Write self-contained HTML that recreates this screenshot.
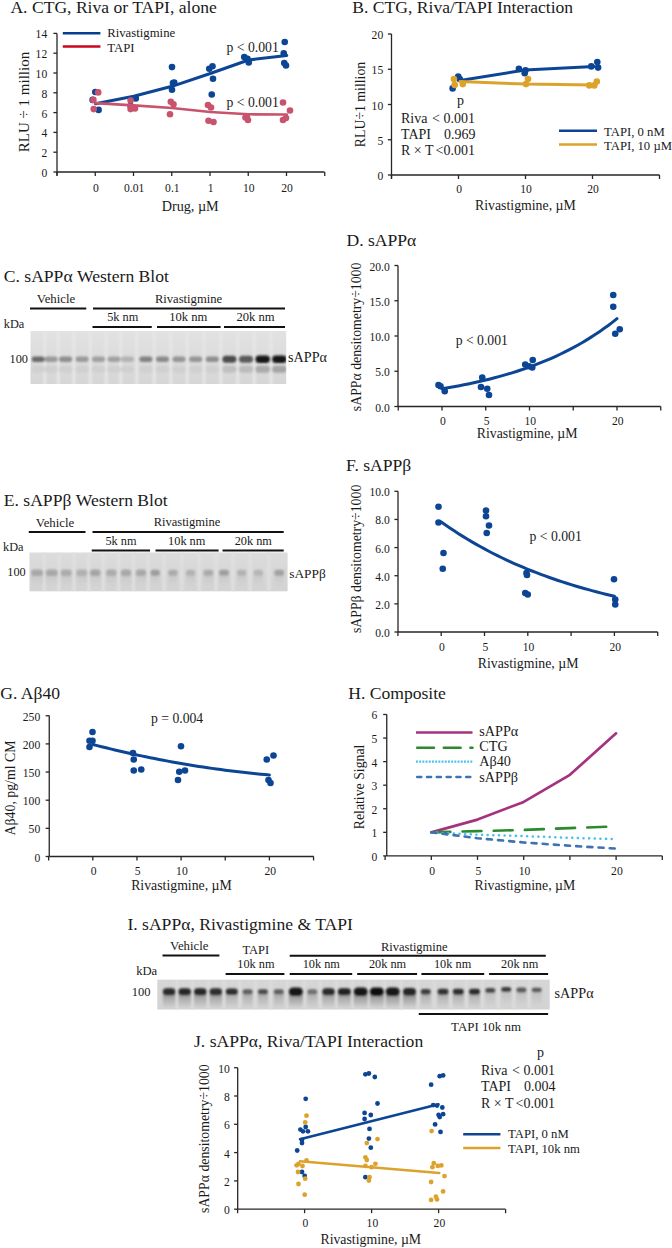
<!DOCTYPE html>
<html><head><meta charset="utf-8"><style>
html,body{margin:0;padding:0;background:#fff;overflow:hidden;}
svg{display:block;}
text{font-family:"Liberation Serif", serif;}
</style></head><body>
<svg width="672" height="1248" viewBox="0 0 672 1248">
<defs><filter id="bl" x="-50%" y="-50%" width="200%" height="200%"><feGaussianBlur stdDeviation="1.2"/></filter><filter id="bl2" x="-50%" y="-50%" width="200%" height="200%"><feGaussianBlur stdDeviation="1"/></filter></defs>
<rect width="672" height="1248" fill="#fff"/>
<text x="10.40" y="12.80" font-size="17.6" text-anchor="start" fill="#1a1a1a" >A. CTG, Riva or TAPI, alone</text>
<line x1="57.00" y1="33.40" x2="57.00" y2="175.60" stroke="#262626" stroke-width="1.3" />
<line x1="53.40" y1="172.00" x2="57.00" y2="172.00" stroke="#262626" stroke-width="1.3" />
<text x="47.20" y="177.00" font-size="11.6" text-anchor="end" fill="#1a1a1a" >0</text>
<line x1="53.40" y1="152.20" x2="57.00" y2="152.20" stroke="#262626" stroke-width="1.3" />
<text x="47.20" y="157.20" font-size="11.6" text-anchor="end" fill="#1a1a1a" >2</text>
<line x1="53.40" y1="132.40" x2="57.00" y2="132.40" stroke="#262626" stroke-width="1.3" />
<text x="47.20" y="137.40" font-size="11.6" text-anchor="end" fill="#1a1a1a" >4</text>
<line x1="53.40" y1="112.60" x2="57.00" y2="112.60" stroke="#262626" stroke-width="1.3" />
<text x="47.20" y="117.60" font-size="11.6" text-anchor="end" fill="#1a1a1a" >6</text>
<line x1="53.40" y1="92.80" x2="57.00" y2="92.80" stroke="#262626" stroke-width="1.3" />
<text x="47.20" y="97.80" font-size="11.6" text-anchor="end" fill="#1a1a1a" >8</text>
<line x1="53.40" y1="73.00" x2="57.00" y2="73.00" stroke="#262626" stroke-width="1.3" />
<text x="47.20" y="78.00" font-size="11.6" text-anchor="end" fill="#1a1a1a" >10</text>
<line x1="53.40" y1="53.20" x2="57.00" y2="53.20" stroke="#262626" stroke-width="1.3" />
<text x="47.20" y="58.20" font-size="11.6" text-anchor="end" fill="#1a1a1a" >12</text>
<line x1="53.40" y1="33.40" x2="57.00" y2="33.40" stroke="#262626" stroke-width="1.3" />
<text x="47.20" y="38.40" font-size="11.6" text-anchor="end" fill="#1a1a1a" >14</text>
<line x1="57.00" y1="172.00" x2="324.50" y2="172.00" stroke="#262626" stroke-width="1.3" />
<line x1="57.00" y1="172.00" x2="57.00" y2="176.00" stroke="#262626" stroke-width="1.3" />
<line x1="95.25" y1="172.00" x2="95.25" y2="176.00" stroke="#262626" stroke-width="1.3" />
<line x1="133.50" y1="172.00" x2="133.50" y2="176.00" stroke="#262626" stroke-width="1.3" />
<line x1="171.75" y1="172.00" x2="171.75" y2="176.00" stroke="#262626" stroke-width="1.3" />
<line x1="210.00" y1="172.00" x2="210.00" y2="176.00" stroke="#262626" stroke-width="1.3" />
<line x1="248.25" y1="172.00" x2="248.25" y2="176.00" stroke="#262626" stroke-width="1.3" />
<line x1="286.50" y1="172.00" x2="286.50" y2="176.00" stroke="#262626" stroke-width="1.3" />
<line x1="324.75" y1="172.00" x2="324.75" y2="176.00" stroke="#262626" stroke-width="1.3" />
<text x="95.85" y="191.60" font-size="11.6" text-anchor="middle" fill="#1a1a1a" >0</text>
<text x="134.10" y="191.60" font-size="11.6" text-anchor="middle" fill="#1a1a1a" >0.01</text>
<text x="172.35" y="191.60" font-size="11.6" text-anchor="middle" fill="#1a1a1a" >0.1</text>
<text x="210.60" y="191.60" font-size="11.6" text-anchor="middle" fill="#1a1a1a" >1</text>
<text x="248.85" y="191.60" font-size="11.6" text-anchor="middle" fill="#1a1a1a" >10</text>
<text x="287.10" y="191.60" font-size="11.6" text-anchor="middle" fill="#1a1a1a" >20</text>
<text x="190.20" y="210.80" font-size="14.2" text-anchor="middle" fill="#1a1a1a" >Drug, µM</text>
<text x="0" y="0" font-size="15" text-anchor="middle" fill="#1a1a1a" transform="translate(29.20,102.00) rotate(-90)">RLU ÷ 1 million</text>
<line x1="62.80" y1="33.20" x2="100.40" y2="33.20" stroke="#063f8e" stroke-width="2.4" />
<text x="107.20" y="37.20" font-size="12.75" text-anchor="start" fill="#1a1a1a" >Rivastigmine</text>
<line x1="62.80" y1="46.50" x2="100.40" y2="46.50" stroke="#c8061e" stroke-width="2.4" />
<text x="107.20" y="52.00" font-size="12.75" text-anchor="start" fill="#1a1a1a" >TAPI</text>
<text x="226.60" y="52.20" font-size="13.7" text-anchor="start" fill="#1a1a1a" >p &lt; 0.001</text>
<text x="226.60" y="107.20" font-size="13.7" text-anchor="start" fill="#1a1a1a" >p &lt; 0.001</text>
<polyline points="95.50,103.70 133.75,96.20 172.00,86.30 210.25,73.50 248.50,60.00 286.75,55.50" fill="none" stroke="#0d4595" stroke-width="3" stroke-linejoin="round" stroke-linecap="round" />
<circle cx="95.30" cy="92.00" r="3.3" fill="#0d4595"/>
<circle cx="92.60" cy="99.90" r="3.3" fill="#0d4595"/>
<circle cx="98.60" cy="109.90" r="3.3" fill="#0d4595"/>
<circle cx="135.80" cy="98.40" r="3.3" fill="#0d4595"/>
<circle cx="130.60" cy="106.00" r="3.3" fill="#0d4595"/>
<circle cx="172.00" cy="67.10" r="3.3" fill="#0d4595"/>
<circle cx="173.00" cy="83.00" r="3.3" fill="#0d4595"/>
<circle cx="172.00" cy="89.80" r="3.3" fill="#0d4595"/>
<circle cx="174.25" cy="82.50" r="3.3" fill="#0d4595"/>
<circle cx="209.25" cy="68.75" r="3.3" fill="#0d4595"/>
<circle cx="212.50" cy="66.25" r="3.3" fill="#0d4595"/>
<circle cx="213.00" cy="78.75" r="3.3" fill="#0d4595"/>
<circle cx="211.75" cy="94.50" r="3.3" fill="#0d4595"/>
<circle cx="244.25" cy="57.00" r="3.3" fill="#0d4595"/>
<circle cx="247.50" cy="58.75" r="3.3" fill="#0d4595"/>
<circle cx="248.75" cy="62.50" r="3.3" fill="#0d4595"/>
<circle cx="284.75" cy="42.00" r="3.3" fill="#0d4595"/>
<circle cx="283.75" cy="53.25" r="3.3" fill="#0d4595"/>
<circle cx="284.25" cy="63.00" r="3.3" fill="#0d4595"/>
<circle cx="286.00" cy="65.50" r="3.3" fill="#0d4595"/>
<polyline points="95.50,103.20 133.75,105.40 172.00,108.00 210.25,112.00 248.50,114.25 286.75,114.50" fill="none" stroke="#c9536d" stroke-width="2.7" stroke-linejoin="round" stroke-linecap="round" />
<circle cx="98.20" cy="92.40" r="3.3" fill="#c9536d"/>
<circle cx="93.40" cy="99.90" r="3.3" fill="#c9536d"/>
<circle cx="93.70" cy="109.10" r="3.3" fill="#c9536d"/>
<circle cx="130.60" cy="100.50" r="3.3" fill="#c9536d"/>
<circle cx="130.60" cy="109.10" r="3.3" fill="#c9536d"/>
<circle cx="135.00" cy="108.40" r="3.3" fill="#c9536d"/>
<circle cx="170.80" cy="101.70" r="3.3" fill="#c9536d"/>
<circle cx="173.50" cy="104.30" r="3.3" fill="#c9536d"/>
<circle cx="170.00" cy="114.30" r="3.3" fill="#c9536d"/>
<circle cx="208.00" cy="105.00" r="3.3" fill="#c9536d"/>
<circle cx="211.00" cy="107.50" r="3.3" fill="#c9536d"/>
<circle cx="208.50" cy="120.75" r="3.3" fill="#c9536d"/>
<circle cx="213.50" cy="122.00" r="3.3" fill="#c9536d"/>
<circle cx="245.50" cy="117.50" r="3.3" fill="#c9536d"/>
<circle cx="248.00" cy="120.00" r="3.3" fill="#c9536d"/>
<circle cx="246.75" cy="116.25" r="3.3" fill="#c9536d"/>
<circle cx="283.00" cy="102.50" r="3.3" fill="#c9536d"/>
<circle cx="290.00" cy="110.50" r="3.3" fill="#c9536d"/>
<circle cx="283.00" cy="120.00" r="3.3" fill="#c9536d"/>
<circle cx="286.00" cy="118.00" r="3.3" fill="#c9536d"/>
<text x="352.25" y="12.80" font-size="17.6" text-anchor="start" fill="#1a1a1a" >B. CTG, Riva/TAPI Interaction</text>
<line x1="391.50" y1="34.00" x2="391.50" y2="178.50" stroke="#262626" stroke-width="1.3" />
<line x1="387.90" y1="175.00" x2="391.50" y2="175.00" stroke="#262626" stroke-width="1.3" />
<text x="383.20" y="180.00" font-size="11.6" text-anchor="end" fill="#1a1a1a" >0</text>
<line x1="387.90" y1="139.75" x2="391.50" y2="139.75" stroke="#262626" stroke-width="1.3" />
<text x="383.20" y="144.75" font-size="11.6" text-anchor="end" fill="#1a1a1a" >5</text>
<line x1="387.90" y1="104.50" x2="391.50" y2="104.50" stroke="#262626" stroke-width="1.3" />
<text x="383.20" y="109.50" font-size="11.6" text-anchor="end" fill="#1a1a1a" >10</text>
<line x1="387.90" y1="69.25" x2="391.50" y2="69.25" stroke="#262626" stroke-width="1.3" />
<text x="383.20" y="74.25" font-size="11.6" text-anchor="end" fill="#1a1a1a" >15</text>
<line x1="387.90" y1="34.00" x2="391.50" y2="34.00" stroke="#262626" stroke-width="1.3" />
<text x="383.20" y="39.00" font-size="11.6" text-anchor="end" fill="#1a1a1a" >20</text>
<line x1="391.50" y1="175.00" x2="659.50" y2="175.00" stroke="#262626" stroke-width="1.3" />
<line x1="391.50" y1="175.00" x2="391.50" y2="179.00" stroke="#262626" stroke-width="1.3" />
<line x1="458.50" y1="175.00" x2="458.50" y2="179.00" stroke="#262626" stroke-width="1.3" />
<line x1="525.50" y1="175.00" x2="525.50" y2="179.00" stroke="#262626" stroke-width="1.3" />
<line x1="592.50" y1="175.00" x2="592.50" y2="179.00" stroke="#262626" stroke-width="1.3" />
<line x1="659.50" y1="175.00" x2="659.50" y2="179.00" stroke="#262626" stroke-width="1.3" />
<text x="459.10" y="193.20" font-size="11.6" text-anchor="middle" fill="#1a1a1a" >0</text>
<text x="526.10" y="193.20" font-size="11.6" text-anchor="middle" fill="#1a1a1a" >10</text>
<text x="593.10" y="193.20" font-size="11.6" text-anchor="middle" fill="#1a1a1a" >20</text>
<text x="525.40" y="209.80" font-size="13.8" text-anchor="middle" fill="#1a1a1a" >Rivastigmine, µM</text>
<text x="0" y="0" font-size="13.8" text-anchor="middle" fill="#1a1a1a" transform="translate(365.30,104.50) rotate(-90)">RLU÷1 million</text>
<text x="460.50" y="105.20" font-size="14" text-anchor="middle" fill="#1a1a1a" >p</text>
<text x="401.00" y="122.60" font-size="14" text-anchor="start" fill="#1a1a1a" >Riva</text>
<text x="475.00" y="122.60" font-size="14" text-anchor="end" fill="#1a1a1a" >&lt; 0.001</text>
<text x="401.00" y="139.00" font-size="14" text-anchor="start" fill="#1a1a1a" >TAPI</text>
<text x="475.50" y="139.00" font-size="14" text-anchor="end" fill="#1a1a1a" >0.969</text>
<text x="401.00" y="155.20" font-size="14" text-anchor="start" fill="#1a1a1a" >R × T</text>
<text x="475.00" y="155.20" font-size="14" text-anchor="end" fill="#1a1a1a" >&lt;0.001</text>
<line x1="559.00" y1="130.80" x2="597.00" y2="130.80" stroke="#0d4595" stroke-width="2.4" />
<text x="604.00" y="135.50" font-size="12.7" text-anchor="start" fill="#1a1a1a" >TAPI, 0 nM</text>
<line x1="559.00" y1="144.50" x2="597.00" y2="144.50" stroke="#dca22c" stroke-width="2.4" />
<text x="604.00" y="149.50" font-size="12.7" text-anchor="start" fill="#1a1a1a" >TAPI, 10 µM</text>
<polyline points="460.00,80.50 525.00,70.00 594.00,66.50" fill="none" stroke="#0d4595" stroke-width="3" stroke-linejoin="round" stroke-linecap="round" />
<circle cx="452.60" cy="88.40" r="3.3" fill="#0d4595"/>
<circle cx="458.20" cy="76.50" r="3.3" fill="#0d4595"/>
<circle cx="459.70" cy="79.00" r="3.3" fill="#0d4595"/>
<circle cx="518.90" cy="68.90" r="3.3" fill="#0d4595"/>
<circle cx="525.50" cy="70.20" r="3.3" fill="#0d4595"/>
<circle cx="524.70" cy="73.20" r="3.3" fill="#0d4595"/>
<circle cx="591.30" cy="66.40" r="3.3" fill="#0d4595"/>
<circle cx="597.30" cy="62.10" r="3.3" fill="#0d4595"/>
<circle cx="598.10" cy="67.60" r="3.3" fill="#0d4595"/>
<polyline points="460.00,81.60 526.00,84.10 594.00,84.90" fill="none" stroke="#dca22c" stroke-width="3" stroke-linejoin="round" stroke-linecap="round" />
<circle cx="453.90" cy="79.00" r="3.3" fill="#dca22c"/>
<circle cx="454.70" cy="84.90" r="3.3" fill="#dca22c"/>
<circle cx="462.80" cy="84.10" r="3.3" fill="#dca22c"/>
<circle cx="528.00" cy="79.00" r="3.3" fill="#dca22c"/>
<circle cx="526.00" cy="84.10" r="3.3" fill="#dca22c"/>
<circle cx="589.30" cy="85.40" r="3.3" fill="#dca22c"/>
<circle cx="594.30" cy="85.40" r="3.3" fill="#dca22c"/>
<circle cx="596.80" cy="81.60" r="3.3" fill="#dca22c"/>
<text x="3.75" y="281.80" font-size="17.6" text-anchor="start" fill="#1a1a1a" >C. sAPPα Western Blot</text>
<text x="56.00" y="303.20" font-size="12.8" text-anchor="middle" fill="#1a1a1a" >Vehicle</text>
<line x1="30.00" y1="308.40" x2="86.25" y2="308.40" stroke="#111" stroke-width="2" />
<text x="188.50" y="302.50" font-size="12.6" text-anchor="middle" fill="#1a1a1a" >Rivastigmine</text>
<line x1="93.00" y1="308.40" x2="285.00" y2="308.40" stroke="#111" stroke-width="2" />
<text x="122.75" y="321.00" font-size="12.3" text-anchor="middle" fill="#1a1a1a" >5k nm</text>
<line x1="92.50" y1="327.00" x2="151.75" y2="327.00" stroke="#111" stroke-width="2" />
<text x="188.30" y="321.30" font-size="12.6" text-anchor="middle" fill="#1a1a1a" >10k nm</text>
<line x1="157.00" y1="327.00" x2="220.60" y2="327.00" stroke="#111" stroke-width="2" />
<text x="255.50" y="321.30" font-size="12.6" text-anchor="middle" fill="#1a1a1a" >20k nm</text>
<line x1="224.00" y1="327.00" x2="285.00" y2="327.00" stroke="#111" stroke-width="2" />
<text x="3.75" y="327.50" font-size="12.3" text-anchor="start" fill="#1a1a1a" >kDa</text>
<text x="28.00" y="362.50" font-size="12.3" text-anchor="end" fill="#1a1a1a" >100</text>
<linearGradient id="g1" x1="0" y1="0" x2="0" y2="1"><stop offset="0" stop-color="#e2e2e2"/><stop offset="1" stop-color="#d6d6d6"/></linearGradient>
<rect x="30.5" y="331" width="255.70" height="53.00" fill="url(#g1)"/>
<svg x="30.5" y="331" width="255.70" height="53.00" viewBox="30.5 331 255.70 53.00" overflow="hidden">
<g filter="url(#bl2)">
<rect x="43.15" y="326" width="3" height="63.00" fill="#e6e6e6"/>
<rect x="56.85" y="326" width="3" height="63.00" fill="#e6e6e6"/>
<rect x="72.35" y="326" width="3" height="63.00" fill="#e6e6e6"/>
<rect x="88.80" y="326" width="3" height="63.00" fill="#e6e6e6"/>
<rect x="104.75" y="326" width="3" height="63.00" fill="#e6e6e6"/>
<rect x="119.25" y="326" width="3" height="63.00" fill="#e6e6e6"/>
<rect x="135.20" y="326" width="3" height="63.00" fill="#e6e6e6"/>
<rect x="152.70" y="326" width="3" height="63.00" fill="#e6e6e6"/>
<rect x="169.25" y="326" width="3" height="63.00" fill="#e6e6e6"/>
<rect x="185.85" y="326" width="3" height="63.00" fill="#e6e6e6"/>
<rect x="202.50" y="326" width="3" height="63.00" fill="#e6e6e6"/>
<rect x="219.35" y="326" width="3" height="63.00" fill="#e6e6e6"/>
<rect x="236.20" y="326" width="3" height="63.00" fill="#e6e6e6"/>
<rect x="252.85" y="326" width="3" height="63.00" fill="#e6e6e6"/>
<rect x="269.55" y="326" width="3" height="63.00" fill="#e6e6e6"/>
</g>
<g filter="url(#bl)">
<rect x="31.70" y="365.80" width="13.00" height="7.00" rx="3.50" fill="#d0d0d0"/>
<rect x="44.60" y="365.80" width="13.00" height="7.00" rx="3.50" fill="#d0d0d0"/>
<rect x="59.10" y="365.80" width="13.00" height="7.00" rx="3.50" fill="#d0d0d0"/>
<rect x="75.60" y="365.80" width="13.00" height="7.00" rx="3.50" fill="#d0d0d0"/>
<rect x="92.00" y="365.80" width="13.00" height="7.00" rx="3.50" fill="#d0d0d0"/>
<rect x="107.50" y="365.80" width="13.00" height="7.00" rx="3.50" fill="#d0d0d0"/>
<rect x="121.00" y="365.80" width="13.00" height="7.00" rx="3.50" fill="#d0d0d0"/>
<rect x="139.40" y="365.80" width="13.00" height="7.00" rx="3.50" fill="#d0d0d0"/>
<rect x="156.00" y="365.80" width="13.00" height="7.00" rx="3.50" fill="#d0d0d0"/>
<rect x="172.50" y="365.80" width="13.00" height="7.00" rx="3.50" fill="#d0d0d0"/>
<rect x="189.20" y="365.80" width="13.00" height="7.00" rx="3.50" fill="#d0d0d0"/>
<rect x="205.80" y="365.80" width="13.00" height="7.00" rx="3.50" fill="#d0d0d0"/>
<rect x="222.40" y="365.80" width="14.00" height="7.00" rx="3.50" fill="#c0c0c0"/>
<rect x="239.00" y="365.80" width="14.00" height="7.00" rx="3.50" fill="#bcbcbc"/>
<rect x="255.45" y="365.80" width="14.50" height="7.00" rx="3.50" fill="#aaaaaa"/>
<rect x="272.15" y="365.80" width="14.50" height="7.00" rx="3.50" fill="#a5a5a5"/>
<rect x="31.70" y="356.55" width="13.00" height="5.50" rx="2.75" fill="#6a6a6a"/>
<rect x="44.60" y="356.55" width="13.00" height="5.50" rx="2.75" fill="#9a9a9a"/>
<rect x="59.10" y="356.55" width="13.00" height="5.50" rx="2.75" fill="#8e8e8e"/>
<rect x="75.60" y="356.55" width="13.00" height="5.50" rx="2.75" fill="#9a9a9a"/>
<rect x="92.00" y="356.55" width="13.00" height="5.50" rx="2.75" fill="#a0a0a0"/>
<rect x="107.50" y="356.55" width="13.00" height="5.50" rx="2.75" fill="#a2a2a2"/>
<rect x="121.00" y="356.55" width="13.00" height="5.50" rx="2.75" fill="#b4b4b4"/>
<rect x="139.40" y="356.55" width="13.00" height="5.50" rx="2.75" fill="#828282"/>
<rect x="156.00" y="356.55" width="13.00" height="5.50" rx="2.75" fill="#8a8a8a"/>
<rect x="172.50" y="356.55" width="13.00" height="5.50" rx="2.75" fill="#959595"/>
<rect x="189.20" y="356.55" width="13.00" height="5.50" rx="2.75" fill="#959595"/>
<rect x="205.80" y="356.55" width="13.00" height="5.50" rx="2.75" fill="#8e8e8e"/>
<rect x="222.40" y="355.80" width="14.00" height="7.00" rx="3.50" fill="#4c4c4c"/>
<rect x="239.00" y="355.80" width="14.00" height="7.00" rx="3.50" fill="#5a5a5a"/>
<rect x="255.45" y="355.55" width="14.50" height="7.50" rx="3.75" fill="#161616"/>
<rect x="272.15" y="355.55" width="14.50" height="7.50" rx="3.75" fill="#141414"/>
</g></svg>
<text x="288.00" y="361.50" font-size="14.2" text-anchor="start" fill="#1a1a1a" >sAPPα</text>
<text x="3.75" y="506.25" font-size="17.6" text-anchor="start" fill="#1a1a1a" >E. sAPPβ Western Blot</text>
<text x="55.00" y="527.00" font-size="12.8" text-anchor="middle" fill="#1a1a1a" >Vehicle</text>
<line x1="28.75" y1="532.00" x2="85.50" y2="532.00" stroke="#111" stroke-width="2" />
<text x="187.00" y="526.30" font-size="12.5" text-anchor="middle" fill="#1a1a1a" >Rivastigmine</text>
<line x1="92.50" y1="532.00" x2="283.70" y2="532.00" stroke="#111" stroke-width="2" />
<text x="121.00" y="545.00" font-size="12.3" text-anchor="middle" fill="#1a1a1a" >5k nm</text>
<line x1="91.75" y1="550.50" x2="150.00" y2="550.50" stroke="#111" stroke-width="2" />
<text x="186.70" y="545.00" font-size="12.3" text-anchor="middle" fill="#1a1a1a" >10k nm</text>
<line x1="155.50" y1="550.50" x2="218.60" y2="550.50" stroke="#111" stroke-width="2" />
<text x="253.30" y="545.00" font-size="12.3" text-anchor="middle" fill="#1a1a1a" >20k nm</text>
<line x1="222.50" y1="550.50" x2="283.70" y2="550.50" stroke="#111" stroke-width="2" />
<text x="3.00" y="550.50" font-size="12.3" text-anchor="start" fill="#1a1a1a" >kDa</text>
<text x="25.75" y="576.25" font-size="12.3" text-anchor="end" fill="#1a1a1a" >100</text>
<linearGradient id="g2" x1="0" y1="0" x2="0" y2="1"><stop offset="0" stop-color="#dcdcdc"/><stop offset="1" stop-color="#d3d3d3"/></linearGradient>
<rect x="29.5" y="552.5" width="258.10" height="38.80" fill="url(#g2)"/>
<svg x="29.5" y="552.5" width="258.10" height="38.80" viewBox="29.5 552.5 258.10 38.80" overflow="hidden">
<g filter="url(#bl2)">
<rect x="42.85" y="547.5" width="3" height="48.80" fill="#e0e0e0"/>
<rect x="57.45" y="547.5" width="3" height="48.80" fill="#e0e0e0"/>
<rect x="72.50" y="547.5" width="3" height="48.80" fill="#e0e0e0"/>
<rect x="87.05" y="547.5" width="3" height="48.80" fill="#e0e0e0"/>
<rect x="101.80" y="547.5" width="3" height="48.80" fill="#e0e0e0"/>
<rect x="117.15" y="547.5" width="3" height="48.80" fill="#e0e0e0"/>
<rect x="132.00" y="547.5" width="3" height="48.80" fill="#e0e0e0"/>
<rect x="146.60" y="547.5" width="3" height="48.80" fill="#e0e0e0"/>
<rect x="162.55" y="547.5" width="3" height="48.80" fill="#e0e0e0"/>
<rect x="180.25" y="547.5" width="3" height="48.80" fill="#e0e0e0"/>
<rect x="197.95" y="547.5" width="3" height="48.80" fill="#e0e0e0"/>
<rect x="214.65" y="547.5" width="3" height="48.80" fill="#e0e0e0"/>
<rect x="231.35" y="547.5" width="3" height="48.80" fill="#e0e0e0"/>
<rect x="248.50" y="547.5" width="3" height="48.80" fill="#e0e0e0"/>
<rect x="267.25" y="547.5" width="3" height="48.80" fill="#e0e0e0"/>
</g>
<g filter="url(#bl)">
<linearGradient id="g2s0" x1="0" y1="0" x2="0" y2="1"><stop offset="0" stop-color="#c6c6c6" stop-opacity="1"/><stop offset="1" stop-color="#c6c6c6" stop-opacity="0"/></linearGradient>
<rect x="31.00" y="572.80" width="12.00" height="14.00" rx="2" fill="url(#g2s0)"/>
<linearGradient id="g2s1" x1="0" y1="0" x2="0" y2="1"><stop offset="0" stop-color="#c6c6c6" stop-opacity="1"/><stop offset="1" stop-color="#c6c6c6" stop-opacity="0"/></linearGradient>
<rect x="45.70" y="572.80" width="12.00" height="14.00" rx="2" fill="url(#g2s1)"/>
<linearGradient id="g2s2" x1="0" y1="0" x2="0" y2="1"><stop offset="0" stop-color="#c6c6c6" stop-opacity="1"/><stop offset="1" stop-color="#c6c6c6" stop-opacity="0"/></linearGradient>
<rect x="60.70" y="572.80" width="11.00" height="14.00" rx="2" fill="url(#g2s2)"/>
<linearGradient id="g2s3" x1="0" y1="0" x2="0" y2="1"><stop offset="0" stop-color="#c6c6c6" stop-opacity="1"/><stop offset="1" stop-color="#c6c6c6" stop-opacity="0"/></linearGradient>
<rect x="76.30" y="572.80" width="11.00" height="14.00" rx="2" fill="url(#g2s3)"/>
<linearGradient id="g2s4" x1="0" y1="0" x2="0" y2="1"><stop offset="0" stop-color="#c6c6c6" stop-opacity="1"/><stop offset="1" stop-color="#c6c6c6" stop-opacity="0"/></linearGradient>
<rect x="90.05" y="572.80" width="10.50" height="14.00" rx="2" fill="url(#g2s4)"/>
<linearGradient id="g2s5" x1="0" y1="0" x2="0" y2="1"><stop offset="0" stop-color="#c6c6c6" stop-opacity="1"/><stop offset="1" stop-color="#c6c6c6" stop-opacity="0"/></linearGradient>
<rect x="106.05" y="572.80" width="10.50" height="14.00" rx="2" fill="url(#g2s5)"/>
<linearGradient id="g2s6" x1="0" y1="0" x2="0" y2="1"><stop offset="0" stop-color="#c6c6c6" stop-opacity="1"/><stop offset="1" stop-color="#c6c6c6" stop-opacity="0"/></linearGradient>
<rect x="120.75" y="572.80" width="10.50" height="14.00" rx="2" fill="url(#g2s6)"/>
<linearGradient id="g2s7" x1="0" y1="0" x2="0" y2="1"><stop offset="0" stop-color="#c6c6c6" stop-opacity="1"/><stop offset="1" stop-color="#c6c6c6" stop-opacity="0"/></linearGradient>
<rect x="135.75" y="572.80" width="10.50" height="14.00" rx="2" fill="url(#g2s7)"/>
<linearGradient id="g2s8" x1="0" y1="0" x2="0" y2="1"><stop offset="0" stop-color="#c6c6c6" stop-opacity="1"/><stop offset="1" stop-color="#c6c6c6" stop-opacity="0"/></linearGradient>
<rect x="150.45" y="572.80" width="9.50" height="14.00" rx="2" fill="url(#g2s8)"/>
<linearGradient id="g2s9" x1="0" y1="0" x2="0" y2="1"><stop offset="0" stop-color="#c6c6c6" stop-opacity="1"/><stop offset="1" stop-color="#c6c6c6" stop-opacity="0"/></linearGradient>
<rect x="168.15" y="572.80" width="9.50" height="14.00" rx="2" fill="url(#g2s9)"/>
<linearGradient id="g2s10" x1="0" y1="0" x2="0" y2="1"><stop offset="0" stop-color="#c6c6c6" stop-opacity="1"/><stop offset="1" stop-color="#c6c6c6" stop-opacity="0"/></linearGradient>
<rect x="185.85" y="572.80" width="9.50" height="14.00" rx="2" fill="url(#g2s10)"/>
<linearGradient id="g2s11" x1="0" y1="0" x2="0" y2="1"><stop offset="0" stop-color="#c6c6c6" stop-opacity="1"/><stop offset="1" stop-color="#c6c6c6" stop-opacity="0"/></linearGradient>
<rect x="203.30" y="572.80" width="10.00" height="14.00" rx="2" fill="url(#g2s11)"/>
<linearGradient id="g2s12" x1="0" y1="0" x2="0" y2="1"><stop offset="0" stop-color="#c6c6c6" stop-opacity="1"/><stop offset="1" stop-color="#c6c6c6" stop-opacity="0"/></linearGradient>
<rect x="219.00" y="572.80" width="10.00" height="14.00" rx="2" fill="url(#g2s12)"/>
<linearGradient id="g2s13" x1="0" y1="0" x2="0" y2="1"><stop offset="0" stop-color="#c6c6c6" stop-opacity="1"/><stop offset="1" stop-color="#c6c6c6" stop-opacity="0"/></linearGradient>
<rect x="236.95" y="572.80" width="9.50" height="14.00" rx="2" fill="url(#g2s13)"/>
<linearGradient id="g2s14" x1="0" y1="0" x2="0" y2="1"><stop offset="0" stop-color="#c6c6c6" stop-opacity="1"/><stop offset="1" stop-color="#c6c6c6" stop-opacity="0"/></linearGradient>
<rect x="253.55" y="572.80" width="9.50" height="14.00" rx="2" fill="url(#g2s14)"/>
<linearGradient id="g2s15" x1="0" y1="0" x2="0" y2="1"><stop offset="0" stop-color="#c6c6c6" stop-opacity="1"/><stop offset="1" stop-color="#c6c6c6" stop-opacity="0"/></linearGradient>
<rect x="274.20" y="572.80" width="10.00" height="14.00" rx="2" fill="url(#g2s15)"/>
<rect x="31.00" y="569.55" width="12.00" height="6.50" rx="3.25" fill="#a8a8a8"/>
<rect x="45.70" y="569.55" width="12.00" height="6.50" rx="3.25" fill="#a8a8a8"/>
<rect x="60.70" y="569.55" width="11.00" height="6.50" rx="3.25" fill="#acacac"/>
<rect x="76.30" y="569.55" width="11.00" height="6.50" rx="3.25" fill="#b0b0b0"/>
<rect x="90.05" y="569.55" width="10.50" height="6.50" rx="3.25" fill="#a4a4a4"/>
<rect x="106.05" y="569.55" width="10.50" height="6.50" rx="3.25" fill="#acacac"/>
<rect x="120.75" y="569.55" width="10.50" height="6.50" rx="3.25" fill="#a8a8a8"/>
<rect x="135.75" y="569.55" width="10.50" height="6.50" rx="3.25" fill="#a8a8a8"/>
<rect x="150.45" y="569.80" width="9.50" height="6.00" rx="3.00" fill="#9c9c9c"/>
<rect x="168.15" y="569.80" width="9.50" height="6.00" rx="3.00" fill="#ababab"/>
<rect x="185.85" y="569.80" width="9.50" height="6.00" rx="3.00" fill="#b2b2b2"/>
<rect x="203.30" y="569.80" width="10.00" height="6.00" rx="3.00" fill="#aaaaaa"/>
<rect x="219.00" y="569.80" width="10.00" height="6.00" rx="3.00" fill="#9e9e9e"/>
<rect x="236.95" y="569.80" width="9.50" height="6.00" rx="3.00" fill="#b2b2b2"/>
<rect x="253.55" y="569.80" width="9.50" height="6.00" rx="3.00" fill="#b6b6b6"/>
<rect x="274.20" y="569.80" width="10.00" height="6.00" rx="3.00" fill="#a2a2a2"/>
</g></svg>
<text x="289.20" y="577.50" font-size="13.4" text-anchor="start" fill="#1a1a1a" >sAPPβ</text>
<text x="127.40" y="929.80" font-size="17.6" text-anchor="start" fill="#1a1a1a" >I. sAPPα, Rivastigmine &amp; TAPI</text>
<text x="189.30" y="950.00" font-size="12.8" text-anchor="middle" fill="#1a1a1a" >Vehicle</text>
<line x1="162.50" y1="955.60" x2="219.40" y2="955.60" stroke="#111" stroke-width="2" />
<text x="255.80" y="953.50" font-size="12.5" text-anchor="middle" fill="#1a1a1a" >TAPI</text>
<text x="255.90" y="968.00" font-size="12.3" text-anchor="middle" fill="#1a1a1a" >10k nm</text>
<line x1="225.60" y1="974.00" x2="284.40" y2="974.00" stroke="#111" stroke-width="2" />
<text x="414.30" y="950.70" font-size="12.5" text-anchor="middle" fill="#1a1a1a" >Rivastigmine</text>
<line x1="289.70" y1="955.70" x2="545.80" y2="955.70" stroke="#111" stroke-width="2" />
<text x="321.30" y="968.00" font-size="12.3" text-anchor="middle" fill="#1a1a1a" >10k nm</text>
<line x1="289.70" y1="974.00" x2="352.20" y2="974.00" stroke="#111" stroke-width="2" />
<text x="387.50" y="968.00" font-size="12.3" text-anchor="middle" fill="#1a1a1a" >20k nm</text>
<line x1="357.20" y1="974.00" x2="417.10" y2="974.00" stroke="#111" stroke-width="2" />
<text x="452.60" y="968.00" font-size="12.3" text-anchor="middle" fill="#1a1a1a" >10k nm</text>
<line x1="421.40" y1="974.00" x2="484.20" y2="974.00" stroke="#111" stroke-width="2" />
<text x="519.70" y="968.00" font-size="12.3" text-anchor="middle" fill="#1a1a1a" >20k nm</text>
<line x1="489.10" y1="974.00" x2="548.10" y2="974.00" stroke="#111" stroke-width="2" />
<text x="136.20" y="974.60" font-size="12.6" text-anchor="start" fill="#1a1a1a" >kDa</text>
<text x="150.50" y="995.90" font-size="12.5" text-anchor="end" fill="#1a1a1a" >100</text>
<linearGradient id="g3" x1="0" y1="0" x2="0" y2="1"><stop offset="0" stop-color="#d6d6d6"/><stop offset="1" stop-color="#d3d3d3"/></linearGradient>
<rect x="157.3" y="979.7" width="392.40" height="29.80" fill="url(#g3)"/>
<svg x="157.3" y="979.7" width="392.40" height="29.80" viewBox="157.3 979.7 392.40 29.80" overflow="hidden">
<g filter="url(#bl2)">
<rect x="175.65" y="974.7" width="2.5" height="39.80" fill="#dddddd"/>
<rect x="191.25" y="974.7" width="2.5" height="39.80" fill="#dddddd"/>
<rect x="206.80" y="974.7" width="2.5" height="39.80" fill="#dddddd"/>
<rect x="222.55" y="974.7" width="2.5" height="39.80" fill="#dddddd"/>
<rect x="238.45" y="974.7" width="2.5" height="39.80" fill="#dddddd"/>
<rect x="254.00" y="974.7" width="2.5" height="39.80" fill="#dddddd"/>
<rect x="269.55" y="974.7" width="2.5" height="39.80" fill="#dddddd"/>
<rect x="286.00" y="974.7" width="2.5" height="39.80" fill="#dddddd"/>
<rect x="302.80" y="974.7" width="2.5" height="39.80" fill="#dddddd"/>
<rect x="319.15" y="974.7" width="2.5" height="39.80" fill="#dddddd"/>
<rect x="335.15" y="974.7" width="2.5" height="39.80" fill="#dddddd"/>
<rect x="351.25" y="974.7" width="2.5" height="39.80" fill="#dddddd"/>
<rect x="367.50" y="974.7" width="2.5" height="39.80" fill="#dddddd"/>
<rect x="383.50" y="974.7" width="2.5" height="39.80" fill="#dddddd"/>
<rect x="399.85" y="974.7" width="2.5" height="39.80" fill="#dddddd"/>
<rect x="416.35" y="974.7" width="2.5" height="39.80" fill="#dddddd"/>
<rect x="433.10" y="974.7" width="2.5" height="39.80" fill="#dddddd"/>
<rect x="449.40" y="974.7" width="2.5" height="39.80" fill="#dddddd"/>
<rect x="465.15" y="974.7" width="2.5" height="39.80" fill="#dddddd"/>
<rect x="481.15" y="974.7" width="2.5" height="39.80" fill="#dddddd"/>
<rect x="497.00" y="974.7" width="2.5" height="39.80" fill="#dddddd"/>
<rect x="512.55" y="974.7" width="2.5" height="39.80" fill="#dddddd"/>
<rect x="527.80" y="974.7" width="2.5" height="39.80" fill="#dddddd"/>
</g>
<g filter="url(#bl)">
<linearGradient id="g3s0" x1="0" y1="0" x2="0" y2="1"><stop offset="0" stop-color="#8e8e8e" stop-opacity="1"/><stop offset="1" stop-color="#8e8e8e" stop-opacity="0"/></linearGradient>
<rect x="162.85" y="991.80" width="12.50" height="16.00" rx="2" fill="url(#g3s0)"/>
<linearGradient id="g3s1" x1="0" y1="0" x2="0" y2="1"><stop offset="0" stop-color="#8e8e8e" stop-opacity="1"/><stop offset="1" stop-color="#8e8e8e" stop-opacity="0"/></linearGradient>
<rect x="178.45" y="991.80" width="12.50" height="16.00" rx="2" fill="url(#g3s1)"/>
<linearGradient id="g3s2" x1="0" y1="0" x2="0" y2="1"><stop offset="0" stop-color="#8e8e8e" stop-opacity="1"/><stop offset="1" stop-color="#8e8e8e" stop-opacity="0"/></linearGradient>
<rect x="194.05" y="991.80" width="12.50" height="16.00" rx="2" fill="url(#g3s2)"/>
<linearGradient id="g3s3" x1="0" y1="0" x2="0" y2="1"><stop offset="0" stop-color="#8e8e8e" stop-opacity="1"/><stop offset="1" stop-color="#8e8e8e" stop-opacity="0"/></linearGradient>
<rect x="209.55" y="991.80" width="12.50" height="16.00" rx="2" fill="url(#g3s3)"/>
<linearGradient id="g3s4" x1="0" y1="0" x2="0" y2="1"><stop offset="0" stop-color="#a5a5a5" stop-opacity="1"/><stop offset="1" stop-color="#a5a5a5" stop-opacity="0"/></linearGradient>
<rect x="225.80" y="991.80" width="12.00" height="16.00" rx="2" fill="url(#g3s4)"/>
<linearGradient id="g3s5" x1="0" y1="0" x2="0" y2="1"><stop offset="0" stop-color="#a5a5a5" stop-opacity="1"/><stop offset="1" stop-color="#a5a5a5" stop-opacity="0"/></linearGradient>
<rect x="242.60" y="991.80" width="10.00" height="16.00" rx="2" fill="url(#g3s5)"/>
<linearGradient id="g3s6" x1="0" y1="0" x2="0" y2="1"><stop offset="0" stop-color="#a5a5a5" stop-opacity="1"/><stop offset="1" stop-color="#a5a5a5" stop-opacity="0"/></linearGradient>
<rect x="257.90" y="991.80" width="10.00" height="16.00" rx="2" fill="url(#g3s6)"/>
<linearGradient id="g3s7" x1="0" y1="0" x2="0" y2="1"><stop offset="0" stop-color="#a5a5a5" stop-opacity="1"/><stop offset="1" stop-color="#a5a5a5" stop-opacity="0"/></linearGradient>
<rect x="273.70" y="991.80" width="10.00" height="16.00" rx="2" fill="url(#g3s7)"/>
<linearGradient id="g3s8" x1="0" y1="0" x2="0" y2="1"><stop offset="0" stop-color="#808080" stop-opacity="1"/><stop offset="1" stop-color="#808080" stop-opacity="0"/></linearGradient>
<rect x="288.80" y="991.80" width="14.00" height="16.00" rx="2" fill="url(#g3s8)"/>
<linearGradient id="g3s9" x1="0" y1="0" x2="0" y2="1"><stop offset="0" stop-color="#aaaaaa" stop-opacity="1"/><stop offset="1" stop-color="#aaaaaa" stop-opacity="0"/></linearGradient>
<rect x="307.30" y="991.80" width="10.00" height="16.00" rx="2" fill="url(#g3s9)"/>
<linearGradient id="g3s10" x1="0" y1="0" x2="0" y2="1"><stop offset="0" stop-color="#959595" stop-opacity="1"/><stop offset="1" stop-color="#959595" stop-opacity="0"/></linearGradient>
<rect x="322.25" y="991.80" width="12.50" height="16.00" rx="2" fill="url(#g3s10)"/>
<linearGradient id="g3s11" x1="0" y1="0" x2="0" y2="1"><stop offset="0" stop-color="#909090" stop-opacity="1"/><stop offset="1" stop-color="#909090" stop-opacity="0"/></linearGradient>
<rect x="337.80" y="991.80" width="13.00" height="16.00" rx="2" fill="url(#g3s11)"/>
<linearGradient id="g3s12" x1="0" y1="0" x2="0" y2="1"><stop offset="0" stop-color="#808080" stop-opacity="1"/><stop offset="1" stop-color="#808080" stop-opacity="0"/></linearGradient>
<rect x="353.70" y="991.80" width="14.00" height="16.00" rx="2" fill="url(#g3s12)"/>
<linearGradient id="g3s13" x1="0" y1="0" x2="0" y2="1"><stop offset="0" stop-color="#808080" stop-opacity="1"/><stop offset="1" stop-color="#808080" stop-opacity="0"/></linearGradient>
<rect x="369.80" y="991.80" width="14.00" height="16.00" rx="2" fill="url(#g3s13)"/>
<linearGradient id="g3s14" x1="0" y1="0" x2="0" y2="1"><stop offset="0" stop-color="#808080" stop-opacity="1"/><stop offset="1" stop-color="#808080" stop-opacity="0"/></linearGradient>
<rect x="385.70" y="991.80" width="14.00" height="16.00" rx="2" fill="url(#g3s14)"/>
<linearGradient id="g3s15" x1="0" y1="0" x2="0" y2="1"><stop offset="0" stop-color="#808080" stop-opacity="1"/><stop offset="1" stop-color="#808080" stop-opacity="0"/></linearGradient>
<rect x="403.00" y="991.80" width="13.00" height="16.00" rx="2" fill="url(#g3s15)"/>
<linearGradient id="g3s16" x1="0" y1="0" x2="0" y2="1"><stop offset="0" stop-color="#a5a5a5" stop-opacity="1"/><stop offset="1" stop-color="#a5a5a5" stop-opacity="0"/></linearGradient>
<rect x="420.70" y="991.80" width="10.00" height="16.00" rx="2" fill="url(#g3s16)"/>
<linearGradient id="g3s17" x1="0" y1="0" x2="0" y2="1"><stop offset="0" stop-color="#a5a5a5" stop-opacity="1"/><stop offset="1" stop-color="#a5a5a5" stop-opacity="0"/></linearGradient>
<rect x="437.50" y="991.80" width="11.00" height="16.00" rx="2" fill="url(#g3s17)"/>
<linearGradient id="g3s18" x1="0" y1="0" x2="0" y2="1"><stop offset="0" stop-color="#a5a5a5" stop-opacity="1"/><stop offset="1" stop-color="#a5a5a5" stop-opacity="0"/></linearGradient>
<rect x="452.80" y="991.80" width="11.00" height="16.00" rx="2" fill="url(#g3s18)"/>
<linearGradient id="g3s19" x1="0" y1="0" x2="0" y2="1"><stop offset="0" stop-color="#a5a5a5" stop-opacity="1"/><stop offset="1" stop-color="#a5a5a5" stop-opacity="0"/></linearGradient>
<rect x="469.00" y="991.80" width="11.00" height="16.00" rx="2" fill="url(#g3s19)"/>
<linearGradient id="g3s20" x1="0" y1="0" x2="0" y2="1"><stop offset="0" stop-color="#bdbdbd" stop-opacity="1"/><stop offset="1" stop-color="#bdbdbd" stop-opacity="0"/></linearGradient>
<rect x="485.30" y="990.50" width="10.00" height="16.00" rx="2" fill="url(#g3s20)"/>
<linearGradient id="g3s21" x1="0" y1="0" x2="0" y2="1"><stop offset="0" stop-color="#bdbdbd" stop-opacity="1"/><stop offset="1" stop-color="#bdbdbd" stop-opacity="0"/></linearGradient>
<rect x="501.20" y="989.50" width="10.00" height="16.00" rx="2" fill="url(#g3s21)"/>
<linearGradient id="g3s22" x1="0" y1="0" x2="0" y2="1"><stop offset="0" stop-color="#bdbdbd" stop-opacity="1"/><stop offset="1" stop-color="#bdbdbd" stop-opacity="0"/></linearGradient>
<rect x="516.40" y="990.00" width="10.00" height="16.00" rx="2" fill="url(#g3s22)"/>
<linearGradient id="g3s23" x1="0" y1="0" x2="0" y2="1"><stop offset="0" stop-color="#bdbdbd" stop-opacity="1"/><stop offset="1" stop-color="#bdbdbd" stop-opacity="0"/></linearGradient>
<rect x="531.70" y="990.00" width="10.00" height="16.00" rx="2" fill="url(#g3s23)"/>
<rect x="162.85" y="988.30" width="12.50" height="7.00" rx="3.50" fill="#2a2a2a"/>
<rect x="178.45" y="988.30" width="12.50" height="7.00" rx="3.50" fill="#262626"/>
<rect x="194.05" y="988.30" width="12.50" height="7.00" rx="3.50" fill="#262626"/>
<rect x="209.55" y="988.30" width="12.50" height="7.00" rx="3.50" fill="#2e2e2e"/>
<rect x="225.80" y="988.55" width="12.00" height="6.50" rx="3.25" fill="#2e2e2e"/>
<rect x="242.60" y="989.30" width="10.00" height="5.00" rx="2.50" fill="#5e5e5e"/>
<rect x="257.90" y="989.30" width="10.00" height="5.00" rx="2.50" fill="#4a4a4a"/>
<rect x="273.70" y="989.30" width="10.00" height="5.00" rx="2.50" fill="#5e5e5e"/>
<rect x="288.80" y="987.55" width="14.00" height="8.50" rx="4.25" fill="#121212"/>
<rect x="307.30" y="989.30" width="10.00" height="5.00" rx="2.50" fill="#6e6e6e"/>
<rect x="322.25" y="988.30" width="12.50" height="7.00" rx="3.50" fill="#2a2a2a"/>
<rect x="337.80" y="988.30" width="13.00" height="7.00" rx="3.50" fill="#222222"/>
<rect x="353.70" y="987.55" width="14.00" height="8.50" rx="4.25" fill="#181818"/>
<rect x="369.80" y="987.55" width="14.00" height="8.50" rx="4.25" fill="#101010"/>
<rect x="385.70" y="987.55" width="14.00" height="8.50" rx="4.25" fill="#121212"/>
<rect x="403.00" y="988.05" width="13.00" height="7.50" rx="3.75" fill="#262626"/>
<rect x="420.70" y="989.05" width="10.00" height="5.50" rx="2.75" fill="#3c3c3c"/>
<rect x="437.50" y="988.80" width="11.00" height="6.00" rx="3.00" fill="#333333"/>
<rect x="452.80" y="988.80" width="11.00" height="6.00" rx="3.00" fill="#2e2e2e"/>
<rect x="469.00" y="988.80" width="11.00" height="6.00" rx="3.00" fill="#2c2c2c"/>
<rect x="485.30" y="988.00" width="10.00" height="5.00" rx="2.50" fill="#4a4a4a"/>
<rect x="501.20" y="987.00" width="10.00" height="5.00" rx="2.50" fill="#3e3e3e"/>
<rect x="516.40" y="987.50" width="10.00" height="5.00" rx="2.50" fill="#5a5a5a"/>
<rect x="531.70" y="987.75" width="10.00" height="4.50" rx="2.25" fill="#5a5a5a"/>
</g></svg>
<text x="554.60" y="997.60" font-size="14.2" text-anchor="start" fill="#1a1a1a" >sAPPα</text>
<line x1="418.75" y1="1013.90" x2="548.10" y2="1013.90" stroke="#111" stroke-width="2" />
<text x="486.00" y="1031.20" font-size="12.9" text-anchor="middle" fill="#1a1a1a" >TAPI 10k nm</text>
<text x="346.50" y="246.30" font-size="17.6" text-anchor="start" fill="#1a1a1a" >D. sAPPα</text>
<line x1="398.00" y1="265.50" x2="398.00" y2="406.50" stroke="#262626" stroke-width="1.3" />
<line x1="394.40" y1="406.50" x2="398.00" y2="406.50" stroke="#262626" stroke-width="1.3" />
<text x="389.75" y="411.50" font-size="11.6" text-anchor="end" fill="#1a1a1a" >0.0</text>
<line x1="394.40" y1="371.25" x2="398.00" y2="371.25" stroke="#262626" stroke-width="1.3" />
<text x="389.75" y="376.25" font-size="11.6" text-anchor="end" fill="#1a1a1a" >5.0</text>
<line x1="394.40" y1="336.00" x2="398.00" y2="336.00" stroke="#262626" stroke-width="1.3" />
<text x="389.75" y="341.00" font-size="11.6" text-anchor="end" fill="#1a1a1a" >10.0</text>
<line x1="394.40" y1="300.75" x2="398.00" y2="300.75" stroke="#262626" stroke-width="1.3" />
<text x="389.75" y="305.75" font-size="11.6" text-anchor="end" fill="#1a1a1a" >15.0</text>
<line x1="394.40" y1="265.50" x2="398.00" y2="265.50" stroke="#262626" stroke-width="1.3" />
<text x="389.75" y="270.50" font-size="11.6" text-anchor="end" fill="#1a1a1a" >20.0</text>
<line x1="398.00" y1="406.50" x2="660.75" y2="406.50" stroke="#262626" stroke-width="1.3" />
<line x1="398.25" y1="406.50" x2="398.25" y2="410.50" stroke="#262626" stroke-width="1.3" />
<line x1="442.00" y1="406.50" x2="442.00" y2="410.50" stroke="#262626" stroke-width="1.3" />
<line x1="485.75" y1="406.50" x2="485.75" y2="410.50" stroke="#262626" stroke-width="1.3" />
<line x1="529.50" y1="406.50" x2="529.50" y2="410.50" stroke="#262626" stroke-width="1.3" />
<line x1="573.25" y1="406.50" x2="573.25" y2="410.50" stroke="#262626" stroke-width="1.3" />
<line x1="617.00" y1="406.50" x2="617.00" y2="410.50" stroke="#262626" stroke-width="1.3" />
<line x1="660.75" y1="406.50" x2="660.75" y2="410.50" stroke="#262626" stroke-width="1.3" />
<text x="442.80" y="424.80" font-size="11.6" text-anchor="middle" fill="#1a1a1a" >0</text>
<text x="486.55" y="424.80" font-size="11.6" text-anchor="middle" fill="#1a1a1a" >5</text>
<text x="530.30" y="424.80" font-size="11.6" text-anchor="middle" fill="#1a1a1a" >10</text>
<text x="617.80" y="424.80" font-size="11.6" text-anchor="middle" fill="#1a1a1a" >20</text>
<text x="527.10" y="438.40" font-size="13.8" text-anchor="middle" fill="#1a1a1a" >Rivastigmine, µM</text>
<text x="0" y="0" font-size="13.8" text-anchor="middle" fill="#1a1a1a" transform="translate(361.20,336.90) rotate(-90)">sAPPα densitometry÷1000</text>
<text x="455.70" y="345.00" font-size="13.7" text-anchor="start" fill="#1a1a1a" >p &lt; 0.001</text>
<polyline points="442.00,388.73 446.38,388.01 450.75,387.26 455.12,386.47 459.50,385.66 463.88,384.81 468.25,383.92 472.62,383.00 477.00,382.04 481.38,381.05 485.75,380.01 490.12,378.93 494.50,377.81 498.88,376.64 503.25,375.42 507.62,374.15 512.00,372.83 516.38,371.46 520.75,370.03 525.12,368.55 529.50,367.00 533.88,365.39 538.25,363.72 542.62,361.97 547.00,360.16 551.38,358.27 555.75,356.30 560.12,354.26 564.50,352.13 568.88,349.91 573.25,347.60 577.62,345.20 582.00,342.70 586.38,340.10 590.75,337.40 595.12,334.58 599.50,331.65 603.88,328.60 608.25,325.42 612.62,322.12 617.00,318.68" fill="none" stroke="#0d4595" stroke-width="3" stroke-linejoin="round" stroke-linecap="round" />
<circle cx="438.50" cy="385.00" r="3.3" fill="#0d4595"/>
<circle cx="440.50" cy="386.25" r="3.3" fill="#0d4595"/>
<circle cx="444.75" cy="391.25" r="3.3" fill="#0d4595"/>
<circle cx="482.25" cy="377.50" r="3.3" fill="#0d4595"/>
<circle cx="481.00" cy="387.00" r="3.3" fill="#0d4595"/>
<circle cx="487.25" cy="388.75" r="3.3" fill="#0d4595"/>
<circle cx="489.00" cy="395.00" r="3.3" fill="#0d4595"/>
<circle cx="525.25" cy="364.50" r="3.3" fill="#0d4595"/>
<circle cx="529.00" cy="366.25" r="3.3" fill="#0d4595"/>
<circle cx="532.75" cy="360.00" r="3.3" fill="#0d4595"/>
<circle cx="532.25" cy="367.50" r="3.3" fill="#0d4595"/>
<circle cx="613.25" cy="295.00" r="3.3" fill="#0d4595"/>
<circle cx="613.25" cy="306.75" r="3.3" fill="#0d4595"/>
<circle cx="615.25" cy="333.75" r="3.3" fill="#0d4595"/>
<circle cx="619.75" cy="329.25" r="3.3" fill="#0d4595"/>
<text x="346.00" y="470.50" font-size="17.6" text-anchor="start" fill="#1a1a1a" >F. sAPPβ</text>
<line x1="398.00" y1="491.25" x2="398.00" y2="632.00" stroke="#262626" stroke-width="1.3" />
<line x1="394.40" y1="632.00" x2="398.00" y2="632.00" stroke="#262626" stroke-width="1.3" />
<text x="389.75" y="637.00" font-size="11.6" text-anchor="end" fill="#1a1a1a" >0.0</text>
<line x1="394.40" y1="603.86" x2="398.00" y2="603.86" stroke="#262626" stroke-width="1.3" />
<text x="389.75" y="608.86" font-size="11.6" text-anchor="end" fill="#1a1a1a" >2.0</text>
<line x1="394.40" y1="575.72" x2="398.00" y2="575.72" stroke="#262626" stroke-width="1.3" />
<text x="389.75" y="580.72" font-size="11.6" text-anchor="end" fill="#1a1a1a" >4.0</text>
<line x1="394.40" y1="547.58" x2="398.00" y2="547.58" stroke="#262626" stroke-width="1.3" />
<text x="389.75" y="552.58" font-size="11.6" text-anchor="end" fill="#1a1a1a" >6.0</text>
<line x1="394.40" y1="519.44" x2="398.00" y2="519.44" stroke="#262626" stroke-width="1.3" />
<text x="389.75" y="524.44" font-size="11.6" text-anchor="end" fill="#1a1a1a" >8.0</text>
<line x1="394.40" y1="491.30" x2="398.00" y2="491.30" stroke="#262626" stroke-width="1.3" />
<text x="389.75" y="496.30" font-size="11.6" text-anchor="end" fill="#1a1a1a" >10.0</text>
<line x1="398.00" y1="632.00" x2="657.70" y2="632.00" stroke="#262626" stroke-width="1.3" />
<line x1="397.90" y1="632.00" x2="397.90" y2="636.00" stroke="#262626" stroke-width="1.3" />
<line x1="441.20" y1="632.00" x2="441.20" y2="636.00" stroke="#262626" stroke-width="1.3" />
<line x1="484.50" y1="632.00" x2="484.50" y2="636.00" stroke="#262626" stroke-width="1.3" />
<line x1="527.80" y1="632.00" x2="527.80" y2="636.00" stroke="#262626" stroke-width="1.3" />
<line x1="571.10" y1="632.00" x2="571.10" y2="636.00" stroke="#262626" stroke-width="1.3" />
<line x1="614.40" y1="632.00" x2="614.40" y2="636.00" stroke="#262626" stroke-width="1.3" />
<line x1="657.70" y1="632.00" x2="657.70" y2="636.00" stroke="#262626" stroke-width="1.3" />
<text x="442.00" y="651.25" font-size="11.6" text-anchor="middle" fill="#1a1a1a" >0</text>
<text x="485.30" y="651.25" font-size="11.6" text-anchor="middle" fill="#1a1a1a" >5</text>
<text x="528.60" y="651.25" font-size="11.6" text-anchor="middle" fill="#1a1a1a" >10</text>
<text x="615.20" y="651.25" font-size="11.6" text-anchor="middle" fill="#1a1a1a" >20</text>
<text x="528.10" y="667.50" font-size="13.8" text-anchor="middle" fill="#1a1a1a" >Rivastigmine, µM</text>
<text x="0" y="0" font-size="13.8" text-anchor="middle" fill="#1a1a1a" transform="translate(361.30,558.90) rotate(-90)">sAPPβ densitometry÷1000</text>
<text x="529.60" y="540.80" font-size="13.7" text-anchor="start" fill="#1a1a1a" >p &lt; 0.001</text>
<polyline points="441.20,521.97 445.53,525.02 449.86,527.99 454.19,530.87 458.52,533.67 462.85,536.39 467.18,539.04 471.51,541.62 475.84,544.12 480.17,546.56 484.50,548.93 488.83,551.23 493.16,553.47 497.49,555.64 501.82,557.76 506.15,559.82 510.48,561.82 514.81,563.76 519.14,565.65 523.47,567.49 527.80,569.28 532.13,571.01 536.46,572.70 540.79,574.35 545.12,575.95 549.45,577.50 553.78,579.01 558.11,580.48 562.44,581.90 566.77,583.29 571.10,584.64 575.43,585.95 579.76,587.23 584.09,588.47 588.42,589.68 592.75,590.85 597.08,591.99 601.41,593.10 605.74,594.18 610.07,595.22 614.40,596.24" fill="none" stroke="#0d4595" stroke-width="3" stroke-linejoin="round" stroke-linecap="round" />
<circle cx="438.50" cy="506.75" r="3.3" fill="#0d4595"/>
<circle cx="438.50" cy="522.50" r="3.3" fill="#0d4595"/>
<circle cx="443.50" cy="553.00" r="3.3" fill="#0d4595"/>
<circle cx="442.75" cy="568.75" r="3.3" fill="#0d4595"/>
<circle cx="486.00" cy="510.50" r="3.3" fill="#0d4595"/>
<circle cx="486.00" cy="516.25" r="3.3" fill="#0d4595"/>
<circle cx="489.00" cy="525.50" r="3.3" fill="#0d4595"/>
<circle cx="486.75" cy="533.00" r="3.3" fill="#0d4595"/>
<circle cx="526.50" cy="573.00" r="3.3" fill="#0d4595"/>
<circle cx="527.00" cy="575.00" r="3.3" fill="#0d4595"/>
<circle cx="525.25" cy="593.00" r="3.3" fill="#0d4595"/>
<circle cx="527.75" cy="594.50" r="3.3" fill="#0d4595"/>
<circle cx="614.00" cy="579.25" r="3.3" fill="#0d4595"/>
<circle cx="615.25" cy="599.50" r="3.3" fill="#0d4595"/>
<circle cx="615.25" cy="604.50" r="3.3" fill="#0d4595"/>
<text x="0.30" y="698.80" font-size="17.6" text-anchor="start" fill="#1a1a1a" >G. Aβ40</text>
<line x1="49.25" y1="715.50" x2="49.25" y2="856.50" stroke="#262626" stroke-width="1.3" />
<line x1="45.65" y1="856.50" x2="49.25" y2="856.50" stroke="#262626" stroke-width="1.3" />
<text x="40.20" y="861.50" font-size="11.6" text-anchor="end" fill="#1a1a1a" >0</text>
<line x1="45.65" y1="828.35" x2="49.25" y2="828.35" stroke="#262626" stroke-width="1.3" />
<text x="40.20" y="833.35" font-size="11.6" text-anchor="end" fill="#1a1a1a" >50</text>
<line x1="45.65" y1="800.20" x2="49.25" y2="800.20" stroke="#262626" stroke-width="1.3" />
<text x="40.20" y="805.20" font-size="11.6" text-anchor="end" fill="#1a1a1a" >100</text>
<line x1="45.65" y1="772.05" x2="49.25" y2="772.05" stroke="#262626" stroke-width="1.3" />
<text x="40.20" y="777.05" font-size="11.6" text-anchor="end" fill="#1a1a1a" >150</text>
<line x1="45.65" y1="743.90" x2="49.25" y2="743.90" stroke="#262626" stroke-width="1.3" />
<text x="40.20" y="748.90" font-size="11.6" text-anchor="end" fill="#1a1a1a" >200</text>
<line x1="45.65" y1="715.75" x2="49.25" y2="715.75" stroke="#262626" stroke-width="1.3" />
<text x="40.20" y="720.75" font-size="11.6" text-anchor="end" fill="#1a1a1a" >250</text>
<line x1="49.25" y1="856.50" x2="313.75" y2="856.50" stroke="#262626" stroke-width="1.3" />
<line x1="48.65" y1="856.50" x2="48.65" y2="860.50" stroke="#262626" stroke-width="1.3" />
<line x1="92.80" y1="856.50" x2="92.80" y2="860.50" stroke="#262626" stroke-width="1.3" />
<line x1="136.95" y1="856.50" x2="136.95" y2="860.50" stroke="#262626" stroke-width="1.3" />
<line x1="181.10" y1="856.50" x2="181.10" y2="860.50" stroke="#262626" stroke-width="1.3" />
<line x1="225.25" y1="856.50" x2="225.25" y2="860.50" stroke="#262626" stroke-width="1.3" />
<line x1="269.40" y1="856.50" x2="269.40" y2="860.50" stroke="#262626" stroke-width="1.3" />
<line x1="313.55" y1="856.50" x2="313.55" y2="860.50" stroke="#262626" stroke-width="1.3" />
<text x="93.60" y="875.00" font-size="11.6" text-anchor="middle" fill="#1a1a1a" >0</text>
<text x="137.75" y="875.00" font-size="11.6" text-anchor="middle" fill="#1a1a1a" >5</text>
<text x="181.90" y="875.00" font-size="11.6" text-anchor="middle" fill="#1a1a1a" >10</text>
<text x="270.20" y="875.00" font-size="11.6" text-anchor="middle" fill="#1a1a1a" >20</text>
<text x="181.50" y="889.80" font-size="13.8" text-anchor="middle" fill="#1a1a1a" >Rivastigmine, µM</text>
<text x="0" y="0" font-size="13.8" text-anchor="middle" fill="#1a1a1a" transform="translate(14.50,788.00) rotate(-90)">Aβ40, pg/ml CM</text>
<text x="151.00" y="723.00" font-size="13.7" text-anchor="start" fill="#1a1a1a" >p = 0.004</text>
<polyline points="92.80,744.50 97.22,745.63 101.63,746.74 106.05,747.83 110.46,748.90 114.88,749.95 119.29,750.99 123.70,752.00 128.12,753.00 132.53,753.98 136.95,754.94 141.37,755.88 145.78,756.80 150.19,757.70 154.61,758.59 159.02,759.45 163.44,760.30 167.86,761.13 172.27,761.94 176.69,762.73 181.10,763.50 185.51,764.25 189.93,764.99 194.34,765.70 198.76,766.40 203.18,767.08 207.59,767.74 212.00,768.38 216.42,769.00 220.83,769.60 225.25,770.19 229.67,770.75 234.08,771.30 238.50,771.83 242.91,772.34 247.32,772.83 251.74,773.30 256.15,773.75 260.57,774.19 264.99,774.60 269.40,775.00" fill="none" stroke="#0d4595" stroke-width="3" stroke-linejoin="round" stroke-linecap="round" />
<circle cx="92.50" cy="732.00" r="3.3" fill="#0d4595"/>
<circle cx="89.50" cy="740.75" r="3.3" fill="#0d4595"/>
<circle cx="92.50" cy="740.75" r="3.3" fill="#0d4595"/>
<circle cx="89.50" cy="747.00" r="3.3" fill="#0d4595"/>
<circle cx="133.00" cy="753.00" r="3.3" fill="#0d4595"/>
<circle cx="133.75" cy="759.50" r="3.3" fill="#0d4595"/>
<circle cx="133.75" cy="770.50" r="3.3" fill="#0d4595"/>
<circle cx="141.25" cy="769.50" r="3.3" fill="#0d4595"/>
<circle cx="181.00" cy="746.25" r="3.3" fill="#0d4595"/>
<circle cx="179.25" cy="771.75" r="3.3" fill="#0d4595"/>
<circle cx="185.00" cy="770.50" r="3.3" fill="#0d4595"/>
<circle cx="178.00" cy="780.00" r="3.3" fill="#0d4595"/>
<circle cx="266.75" cy="759.50" r="3.3" fill="#0d4595"/>
<circle cx="273.50" cy="755.50" r="3.3" fill="#0d4595"/>
<circle cx="268.50" cy="780.00" r="3.3" fill="#0d4595"/>
<circle cx="270.50" cy="783.00" r="3.3" fill="#0d4595"/>
<text x="348.20" y="698.50" font-size="17.6" text-anchor="start" fill="#1a1a1a" >H. Composite</text>
<line x1="386.75" y1="714.50" x2="386.75" y2="855.90" stroke="#262626" stroke-width="1.3" />
<line x1="383.15" y1="855.90" x2="386.75" y2="855.90" stroke="#262626" stroke-width="1.3" />
<text x="377.25" y="860.90" font-size="11.6" text-anchor="end" fill="#1a1a1a" >0</text>
<line x1="383.15" y1="832.33" x2="386.75" y2="832.33" stroke="#262626" stroke-width="1.3" />
<text x="377.25" y="837.33" font-size="11.6" text-anchor="end" fill="#1a1a1a" >1</text>
<line x1="383.15" y1="808.76" x2="386.75" y2="808.76" stroke="#262626" stroke-width="1.3" />
<text x="377.25" y="813.76" font-size="11.6" text-anchor="end" fill="#1a1a1a" >2</text>
<line x1="383.15" y1="785.19" x2="386.75" y2="785.19" stroke="#262626" stroke-width="1.3" />
<text x="377.25" y="790.19" font-size="11.6" text-anchor="end" fill="#1a1a1a" >3</text>
<line x1="383.15" y1="761.62" x2="386.75" y2="761.62" stroke="#262626" stroke-width="1.3" />
<text x="377.25" y="766.62" font-size="11.6" text-anchor="end" fill="#1a1a1a" >4</text>
<line x1="383.15" y1="738.05" x2="386.75" y2="738.05" stroke="#262626" stroke-width="1.3" />
<text x="377.25" y="743.05" font-size="11.6" text-anchor="end" fill="#1a1a1a" >5</text>
<line x1="383.15" y1="714.48" x2="386.75" y2="714.48" stroke="#262626" stroke-width="1.3" />
<text x="377.25" y="719.48" font-size="11.6" text-anchor="end" fill="#1a1a1a" >6</text>
<line x1="386.75" y1="855.90" x2="662.40" y2="855.90" stroke="#262626" stroke-width="1.3" />
<line x1="385.10" y1="855.90" x2="385.10" y2="859.90" stroke="#262626" stroke-width="1.3" />
<line x1="431.30" y1="855.90" x2="431.30" y2="859.90" stroke="#262626" stroke-width="1.3" />
<line x1="477.50" y1="855.90" x2="477.50" y2="859.90" stroke="#262626" stroke-width="1.3" />
<line x1="523.70" y1="855.90" x2="523.70" y2="859.90" stroke="#262626" stroke-width="1.3" />
<line x1="569.90" y1="855.90" x2="569.90" y2="859.90" stroke="#262626" stroke-width="1.3" />
<line x1="616.10" y1="855.90" x2="616.10" y2="859.90" stroke="#262626" stroke-width="1.3" />
<line x1="662.30" y1="855.90" x2="662.30" y2="859.90" stroke="#262626" stroke-width="1.3" />
<text x="432.10" y="874.60" font-size="11.6" text-anchor="middle" fill="#1a1a1a" >0</text>
<text x="478.30" y="874.60" font-size="11.6" text-anchor="middle" fill="#1a1a1a" >5</text>
<text x="524.50" y="874.60" font-size="11.6" text-anchor="middle" fill="#1a1a1a" >10</text>
<text x="616.90" y="874.60" font-size="11.6" text-anchor="middle" fill="#1a1a1a" >20</text>
<text x="524.90" y="889.60" font-size="13.8" text-anchor="middle" fill="#1a1a1a" >Rivastigmine, µM</text>
<text x="0" y="0" font-size="13.8" text-anchor="middle" fill="#1a1a1a" transform="translate(363.50,786.90) rotate(-90)">Relative Signal</text>
<polyline points="431.30,832.33 477.50,819.60 523.70,801.92 569.90,774.82 616.10,733.34" fill="none" stroke="#a5327f" stroke-width="2.7" stroke-linejoin="round" stroke-linecap="round" />
<polyline points="431.30,832.33 477.50,831.15 523.70,829.97 569.90,828.09 616.10,826.44" fill="none" stroke="#2b8a30" stroke-width="2.6" stroke-linejoin="round" stroke-linecap="round" stroke-dasharray="19 12.2"/>
<polyline points="431.30,832.33 477.50,834.69 523.70,836.10 569.90,837.75 616.10,839.17" fill="none" stroke="#48c0ef" stroke-width="2.5" stroke-linejoin="round" stroke-linecap="round" stroke-dasharray="0.1 5.54"/>
<polyline points="431.30,832.33 477.50,838.22 523.70,842.47 569.90,845.76 616.10,848.59" fill="none" stroke="#3d72b3" stroke-width="2.6" stroke-linejoin="round" stroke-linecap="round" stroke-dasharray="5 6.2"/>
<line x1="416.00" y1="732.60" x2="472.50" y2="732.60" stroke="#a5327f" stroke-width="2.5" />
<line x1="417.20" y1="747.70" x2="472.50" y2="747.70" stroke="#2b8a30" stroke-width="2.5" stroke-dasharray="16.8 9.8" stroke-linecap="round"/>
<line x1="416.00" y1="761.60" x2="472.50" y2="761.60" stroke="#48c0ef" stroke-width="2.4" stroke-dasharray="1.9 1.3"/>
<line x1="417.20" y1="777.00" x2="472.50" y2="777.00" stroke="#3d72b3" stroke-width="2.5" stroke-dasharray="4.1 5.7" stroke-linecap="round"/>
<text x="479.30" y="736.20" font-size="14.2" text-anchor="start" fill="#1a1a1a" >sAPPα</text>
<text x="479.30" y="751.30" font-size="14.2" text-anchor="start" fill="#1a1a1a" >CTG</text>
<text x="479.30" y="766.40" font-size="14.2" text-anchor="start" fill="#1a1a1a" >Aβ40</text>
<text x="479.30" y="781.50" font-size="14.2" text-anchor="start" fill="#1a1a1a" >sAPPβ</text>
<text x="194.00" y="1047.40" font-size="17.6" text-anchor="start" fill="#1a1a1a" >J. sAPPα, Riva/TAPI Interaction</text>
<line x1="237.70" y1="1067.70" x2="237.70" y2="1209.20" stroke="#262626" stroke-width="1.3" />
<line x1="234.10" y1="1209.20" x2="237.70" y2="1209.20" stroke="#262626" stroke-width="1.3" />
<text x="229.80" y="1214.20" font-size="11.6" text-anchor="end" fill="#1a1a1a" >0</text>
<line x1="234.10" y1="1180.90" x2="237.70" y2="1180.90" stroke="#262626" stroke-width="1.3" />
<text x="229.80" y="1185.90" font-size="11.6" text-anchor="end" fill="#1a1a1a" >2</text>
<line x1="234.10" y1="1152.60" x2="237.70" y2="1152.60" stroke="#262626" stroke-width="1.3" />
<text x="229.80" y="1157.60" font-size="11.6" text-anchor="end" fill="#1a1a1a" >4</text>
<line x1="234.10" y1="1124.30" x2="237.70" y2="1124.30" stroke="#262626" stroke-width="1.3" />
<text x="229.80" y="1129.30" font-size="11.6" text-anchor="end" fill="#1a1a1a" >6</text>
<line x1="234.10" y1="1096.00" x2="237.70" y2="1096.00" stroke="#262626" stroke-width="1.3" />
<text x="229.80" y="1101.00" font-size="11.6" text-anchor="end" fill="#1a1a1a" >8</text>
<line x1="234.10" y1="1067.70" x2="237.70" y2="1067.70" stroke="#262626" stroke-width="1.3" />
<text x="229.80" y="1072.70" font-size="11.6" text-anchor="end" fill="#1a1a1a" >10</text>
<line x1="237.70" y1="1209.20" x2="505.50" y2="1209.20" stroke="#262626" stroke-width="1.3" />
<line x1="237.60" y1="1209.20" x2="237.60" y2="1213.20" stroke="#262626" stroke-width="1.3" />
<line x1="304.60" y1="1209.20" x2="304.60" y2="1213.20" stroke="#262626" stroke-width="1.3" />
<line x1="371.60" y1="1209.20" x2="371.60" y2="1213.20" stroke="#262626" stroke-width="1.3" />
<line x1="438.60" y1="1209.20" x2="438.60" y2="1213.20" stroke="#262626" stroke-width="1.3" />
<line x1="505.60" y1="1209.20" x2="505.60" y2="1213.20" stroke="#262626" stroke-width="1.3" />
<text x="305.40" y="1227.00" font-size="11.6" text-anchor="middle" fill="#1a1a1a" >0</text>
<text x="372.40" y="1227.00" font-size="11.6" text-anchor="middle" fill="#1a1a1a" >10</text>
<text x="439.40" y="1227.00" font-size="11.6" text-anchor="middle" fill="#1a1a1a" >20</text>
<text x="370.80" y="1244.00" font-size="13.8" text-anchor="middle" fill="#1a1a1a" >Rivastigmine, µM</text>
<text x="0" y="0" font-size="13.8" text-anchor="middle" fill="#1a1a1a" transform="translate(208.80,1138.70) rotate(-90)">sAPPα densitometry÷1000</text>
<text x="540.60" y="1057.40" font-size="14" text-anchor="middle" fill="#1a1a1a" >p</text>
<text x="481.00" y="1074.70" font-size="14" text-anchor="start" fill="#1a1a1a" >Riva</text>
<text x="555.00" y="1074.70" font-size="14" text-anchor="end" fill="#1a1a1a" >&lt; 0.001</text>
<text x="481.00" y="1091.20" font-size="14" text-anchor="start" fill="#1a1a1a" >TAPI</text>
<text x="555.60" y="1091.20" font-size="14" text-anchor="end" fill="#1a1a1a" >0.004</text>
<text x="481.00" y="1107.90" font-size="14" text-anchor="start" fill="#1a1a1a" >R × T</text>
<text x="555.00" y="1107.90" font-size="14" text-anchor="end" fill="#1a1a1a" >&lt;0.001</text>
<line x1="463.20" y1="1134.20" x2="500.40" y2="1134.20" stroke="#0d4595" stroke-width="2.4" />
<line x1="463.20" y1="1148.00" x2="500.40" y2="1148.00" stroke="#dca22c" stroke-width="2.4" />
<text x="508.00" y="1137.80" font-size="12.7" text-anchor="start" fill="#1a1a1a" >TAPI, 0 nM</text>
<text x="508.00" y="1153.00" font-size="12.7" text-anchor="start" fill="#1a1a1a" >TAPI, 10k nm</text>
<polyline points="300.00,1139.30 438.50,1104.30" fill="none" stroke="#0d4595" stroke-width="2.5" stroke-linejoin="round" stroke-linecap="round" />
<polyline points="300.00,1161.30 439.30,1173.10" fill="none" stroke="#dca22c" stroke-width="2.5" stroke-linejoin="round" stroke-linecap="round" />
<circle cx="305.70" cy="1098.80" r="2.4" fill="#0d4595"/>
<circle cx="300.40" cy="1129.60" r="2.4" fill="#0d4595"/>
<circle cx="303.00" cy="1131.30" r="2.4" fill="#0d4595"/>
<circle cx="305.70" cy="1127.00" r="2.4" fill="#0d4595"/>
<circle cx="307.90" cy="1131.30" r="2.4" fill="#0d4595"/>
<circle cx="302.00" cy="1139.80" r="2.4" fill="#0d4595"/>
<circle cx="302.00" cy="1143.00" r="2.4" fill="#0d4595"/>
<circle cx="297.20" cy="1150.50" r="2.4" fill="#0d4595"/>
<circle cx="302.00" cy="1172.00" r="2.4" fill="#0d4595"/>
<circle cx="304.70" cy="1176.00" r="2.4" fill="#0d4595"/>
<circle cx="365.40" cy="1074.30" r="2.4" fill="#0d4595"/>
<circle cx="368.90" cy="1073.50" r="2.4" fill="#0d4595"/>
<circle cx="374.80" cy="1077.00" r="2.4" fill="#0d4595"/>
<circle cx="377.50" cy="1103.50" r="2.4" fill="#0d4595"/>
<circle cx="364.60" cy="1112.90" r="2.4" fill="#0d4595"/>
<circle cx="370.80" cy="1115.00" r="2.4" fill="#0d4595"/>
<circle cx="364.60" cy="1119.00" r="2.4" fill="#0d4595"/>
<circle cx="369.50" cy="1128.90" r="2.4" fill="#0d4595"/>
<circle cx="368.90" cy="1138.60" r="2.4" fill="#0d4595"/>
<circle cx="370.80" cy="1147.70" r="2.4" fill="#0d4595"/>
<circle cx="365.40" cy="1177.20" r="2.4" fill="#0d4595"/>
<circle cx="439.70" cy="1076.20" r="2.4" fill="#0d4595"/>
<circle cx="443.10" cy="1075.40" r="2.4" fill="#0d4595"/>
<circle cx="431.10" cy="1084.70" r="2.4" fill="#0d4595"/>
<circle cx="433.20" cy="1105.10" r="2.4" fill="#0d4595"/>
<circle cx="437.00" cy="1105.60" r="2.4" fill="#0d4595"/>
<circle cx="442.30" cy="1107.50" r="2.4" fill="#0d4595"/>
<circle cx="438.60" cy="1115.00" r="2.4" fill="#0d4595"/>
<circle cx="439.70" cy="1117.10" r="2.4" fill="#0d4595"/>
<circle cx="443.10" cy="1114.20" r="2.4" fill="#0d4595"/>
<circle cx="435.10" cy="1124.40" r="2.4" fill="#0d4595"/>
<circle cx="440.50" cy="1131.90" r="2.4" fill="#0d4595"/>
<circle cx="306.50" cy="1115.70" r="2.4" fill="#dca22c"/>
<circle cx="305.20" cy="1122.40" r="2.4" fill="#dca22c"/>
<circle cx="296.60" cy="1165.30" r="2.4" fill="#dca22c"/>
<circle cx="298.50" cy="1164.00" r="2.4" fill="#dca22c"/>
<circle cx="302.50" cy="1166.00" r="2.4" fill="#dca22c"/>
<circle cx="306.50" cy="1160.50" r="2.4" fill="#dca22c"/>
<circle cx="298.00" cy="1172.00" r="2.4" fill="#dca22c"/>
<circle cx="305.20" cy="1178.70" r="2.4" fill="#dca22c"/>
<circle cx="298.50" cy="1184.00" r="2.4" fill="#dca22c"/>
<circle cx="304.70" cy="1194.70" r="2.4" fill="#dca22c"/>
<circle cx="377.50" cy="1139.10" r="2.4" fill="#dca22c"/>
<circle cx="366.80" cy="1143.10" r="2.4" fill="#dca22c"/>
<circle cx="365.40" cy="1157.30" r="2.4" fill="#dca22c"/>
<circle cx="366.80" cy="1160.00" r="2.4" fill="#dca22c"/>
<circle cx="365.40" cy="1165.90" r="2.4" fill="#dca22c"/>
<circle cx="371.60" cy="1167.20" r="2.4" fill="#dca22c"/>
<circle cx="375.40" cy="1163.80" r="2.4" fill="#dca22c"/>
<circle cx="369.50" cy="1177.20" r="2.4" fill="#dca22c"/>
<circle cx="368.90" cy="1180.60" r="2.4" fill="#dca22c"/>
<circle cx="431.60" cy="1131.10" r="2.4" fill="#dca22c"/>
<circle cx="433.80" cy="1163.20" r="2.4" fill="#dca22c"/>
<circle cx="437.80" cy="1165.90" r="2.4" fill="#dca22c"/>
<circle cx="441.30" cy="1165.40" r="2.4" fill="#dca22c"/>
<circle cx="432.40" cy="1167.20" r="2.4" fill="#dca22c"/>
<circle cx="444.50" cy="1176.10" r="2.4" fill="#dca22c"/>
<circle cx="431.10" cy="1182.00" r="2.4" fill="#dca22c"/>
<circle cx="443.10" cy="1191.40" r="2.4" fill="#dca22c"/>
<circle cx="435.90" cy="1196.70" r="2.4" fill="#dca22c"/>
<circle cx="431.10" cy="1199.90" r="2.4" fill="#dca22c"/>
<circle cx="437.00" cy="1199.40" r="2.4" fill="#dca22c"/>
</svg>
</body></html>
